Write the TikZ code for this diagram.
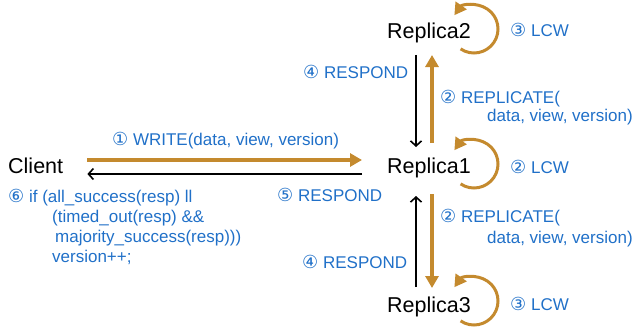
\documentclass[tikz,border=0pt]{standalone}
\usepackage{fontspec}
\setmainfont{Liberation Sans}
\newfontfamily\cnumfont{DejaVu Sans}
\usetikzlibrary{arrows.meta}
\definecolor{gold}{RGB}{196,138,46}
\definecolor{lblue}{RGB}{32,112,200}
\newcommand{\cn}[1]{{\cnumfont\fontsize{18}{18}\selectfont #1}}
\begin{document}
\begin{tikzpicture}[x=1pt,y=-1pt,
  actor/.style={inner sep=0pt,anchor=base west,font=\fontsize{21.5}{24}\selectfont,text=black},
  lbl/.style={inner sep=0pt,anchor=base west,font=\fontsize{17}{20}\selectfont,text=lblue},
  goldarrow/.style={draw=gold,line width=3.2pt,-{Triangle[length=12pt,width=13pt]}},
  blackarrow/.style={draw=black,line width=1.6pt,-{Straight Barb[length=5pt,width=11pt]}},
  loopline/.style={draw=gold,line width=3pt,-{Triangle[length=12pt,width=13pt]}}]
\useasboundingbox (0,0) rectangle (634,329);
% actors
\node[actor] (client) at (8,173) {Client};
\node[actor] (r1) at (387,173) {Replica1};
\node[actor] (r2) at (387,38) {Replica2};
\node[actor] (r3) at (387,312) {Replica3};
% client <-> replica1
\draw[goldarrow] ([shift={(24pt,13pt)}]client.base east) -- ([shift={(-25pt,13pt)}]r1.base west);
\draw[blackarrow] ([shift={(-25pt,-1pt)}]r1.base west) -- ([shift={(24pt,-1pt)}]client.base east);
% replica1 <-> replica2
\draw[goldarrow] ([shift={(45pt,30pt)}]r1.base west) -- ([shift={(45pt,-17pt)}]r2.base west);
\draw[blackarrow] ([shift={(29pt,-17pt)}]r2.base west) -- ([shift={(29pt,26pt)}]r1.base west);
% replica1 <-> replica3
\draw[goldarrow] ([shift={(45pt,-21pt)}]r1.base west) -- ([shift={(45pt,24pt)}]r3.base west);
\draw[blackarrow] ([shift={(29pt,25pt)}]r3.base west) -- ([shift={(29pt,-23pt)}]r1.base west);
% self loops (LCW)
\coordinate (c2) at ([shift={(87pt,9pt)}]r2.base west);
\coordinate (c1) at ([shift={(87pt,9pt)}]r1.base west);
\coordinate (c3) at ([shift={(87pt,11pt)}]r3.base west);
\draw[loopline] (c2) ++(-124:24pt) arc[start angle=-124,end angle=145,radius=24pt];
\draw[loopline] (c1) ++(-124:24pt) arc[start angle=-124,end angle=145,radius=24pt];
\draw[loopline] (c3) ++(-124:24pt) arc[start angle=-124,end angle=145,radius=24pt];
% labels
\node[lbl] (l1) at (112,145) {\cn{①} WRITE(data, view, version)};
\node[lbl] (l5) at (277,201) {\cn{⑤} RESPOND};
\node[lbl] (l6a) at (8,202) {\cn{⑥} if (all\_success(resp) ll};
\node[lbl] (l6b) at (52,222) {(timed\_out(resp) \&\&};
\node[lbl] (l6c) at (55,242) {majority\_success(resp)))};
\node[lbl] (l6d) at (52,262) {version++;};
\node[lbl] (l4t) at (303,78) {\cn{④} RESPOND};
\node[lbl] (l2t) at (440,103) {\cn{②} REPLICATE(};
\node[lbl] (l2tb) at (487,121) {data, view, version)};
\node[lbl] (l2b) at (440,222) {\cn{②} REPLICATE(};
\node[lbl] (l2bb) at (487,243) {data, view, version)};
\node[lbl] (l4b) at (302,268) {\cn{④} RESPOND};
\node[lbl] (lc2) at (510,37) {\cn{③} LCW};
\node[lbl] (lc1) at (510,173) {\cn{②} LCW};
\node[lbl] (lc3) at (510,310) {\cn{③} LCW};
\end{tikzpicture}
\end{document}
